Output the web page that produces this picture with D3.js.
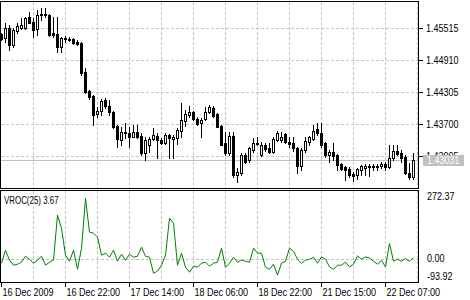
<!DOCTYPE html>
<html><head><meta charset="utf-8">
<script src="https://cdn.jsdelivr.net/npm/d3@7"></script>
<style>
html,body{margin:0;padding:0;background:#fff;overflow:hidden}
text{font-family:"Liberation Sans",Arial,sans-serif;font-size:11px;}
</style></head><body>
<svg id="c" width="470" height="300"></svg>
<script>
const openP=[1.4541,1.4533,1.4552,1.4520,1.4546,1.4552,1.4552,1.4573,1.4563,1.4550,1.4577,1.4579,1.4577,1.4543,1.4541,1.4516,1.4531,1.4531,1.4531,1.4526,
1.4524,1.4469,1.4433,1.4424,1.4390,1.4395,1.4416,1.4405,1.4393,1.4367,1.4340,1.4354,1.4354,1.4346,1.4356,1.4348,1.4316,1.4331,1.4342,1.4348,
1.4340,1.4335,1.4350,1.4342,1.4344,1.4357,1.4376,1.4388,1.4393,1.4380,1.4373,1.4380,1.4393,1.4401,1.4390,1.4367,1.4335,1.4316,1.4348,1.4274,
1.4278,1.4312,1.4303,1.4321,1.4333,1.4312,1.4331,1.4325,1.4318,1.4340,1.4340,1.4352,1.4337,1.4335,1.4325,1.4291,1.4321,1.4337,1.4342,1.4361,
1.4354,1.4335,1.4312,1.4318,1.4312,1.4295,1.4289,1.4286,1.4276,1.4274,1.4284,1.4287,1.4289,1.4289,1.4291,1.4291,1.4295,1.4289,1.4306,1.4320,
1.4316,1.4308,1.4278,1.4270];
const highP=[1.4543,1.4562,1.4558,1.4552,1.4562,1.4571,1.4573,1.4582,1.4571,1.4586,1.4590,1.4590,1.4579,1.4573,1.4573,1.4535,1.4537,1.4535,1.4533,1.4529,
1.4526,1.4476,1.4435,1.4425,1.4403,1.4418,1.4420,1.4416,1.4395,1.4369,1.4365,1.4373,1.4365,1.4369,1.4369,1.4354,1.4346,1.4346,1.4363,1.4354,
1.4344,1.4354,1.4352,1.4350,1.4363,1.4410,1.4397,1.4405,1.4395,1.4384,1.4382,1.4403,1.4407,1.4405,1.4391,1.4369,1.4356,1.4356,1.4356,1.4287,
1.4316,1.4316,1.4327,1.4344,1.4346,1.4337,1.4335,1.4335,1.4346,1.4357,1.4356,1.4354,1.4346,1.4346,1.4327,1.4325,1.4346,1.4348,1.4369,1.4373,
1.4373,1.4337,1.4321,1.4335,1.4314,1.4297,1.4291,1.4289,1.4280,1.4287,1.4293,1.4295,1.4295,1.4295,1.4295,1.4299,1.4299,1.4331,1.4331,1.4331,
1.4321,1.4312,1.4297,1.4316];
const lowP=[1.4529,1.4526,1.4510,1.4516,1.4543,1.4550,1.4550,1.4562,1.4535,1.4539,1.4567,1.4573,1.4537,1.4535,1.4507,1.4507,1.4526,1.4528,1.4522,1.4520,
1.4463,1.4429,1.4418,1.4369,1.4384,1.4388,1.4401,1.4388,1.4363,1.4327,1.4331,1.4344,1.4327,1.4346,1.4344,1.4312,1.4303,1.4318,1.4340,1.4306,
1.4333,1.4333,1.4306,1.4306,1.4333,1.4346,1.4367,1.4384,1.4378,1.4369,1.4346,1.4378,1.4391,1.4384,1.4365,1.4331,1.4312,1.4312,1.4270,1.4261,
1.4274,1.4297,1.4299,1.4318,1.4331,1.4310,1.4320,1.4316,1.4316,1.4339,1.4337,1.4335,1.4327,1.4320,1.4278,1.4284,1.4318,1.4331,1.4340,1.4350,
1.4327,1.4308,1.4299,1.4303,1.4284,1.4284,1.4265,1.4270,1.4263,1.4267,1.4274,1.4274,1.4272,1.4284,1.4284,1.4287,1.4284,1.4287,1.4303,1.4312,
1.4299,1.4276,1.4267,1.4267];
const closeP=[1.4531,1.4552,1.4520,1.4548,1.4556,1.4558,1.4571,1.4562,1.4548,1.4577,1.4579,1.4577,1.4539,1.4539,1.4516,1.4533,1.4533,1.4529,1.4524,1.4522,
1.4467,1.4431,1.4422,1.4388,1.4395,1.4414,1.4405,1.4393,1.4365,1.4342,1.4356,1.4356,1.4346,1.4356,1.4346,1.4316,1.4340,1.4342,1.4350,1.4340,
1.4335,1.4350,1.4344,1.4346,1.4359,1.4378,1.4390,1.4393,1.4380,1.4371,1.4378,1.4393,1.4403,1.4386,1.4365,1.4331,1.4316,1.4348,1.4274,1.4280,
1.4312,1.4299,1.4325,1.4335,1.4335,1.4331,1.4323,1.4318,1.4342,1.4354,1.4346,1.4337,1.4333,1.4325,1.4291,1.4321,1.4339,1.4346,1.4357,1.4354,
1.4331,1.4312,1.4318,1.4310,1.4293,1.4286,1.4284,1.4274,1.4272,1.4286,1.4291,1.4291,1.4291,1.4291,1.4289,1.4295,1.4289,1.4306,1.4320,1.4314,
1.4306,1.4278,1.4270,1.43031];
const vroc=[-21.3,37.7,-7.7,-30.4,-25.9,-16.8,10.4,-3.2,-21.3,-7.7,10.4,-30.4,-16.8,-7.7,196.5,137.5,15.0,-12.3,37.7,-48.6,
46.7,272.37,119.7,115.2,97.0,15.0,24.1,5.9,37.7,-12.3,19.5,-7.7,19.5,5.9,10.4,51.3,10.4,5.9,-66.7,-57.6,
-30.4,15.0,183.0,160.2,-30.4,24.1,-39.5,-62.2,-35.0,-39.5,-21.3,-16.8,-35.0,-21.3,-16.8,46.7,-39.5,-21.3,5.9,-16.8,
-7.7,-12.3,-16.8,46.7,24.1,24.1,-39.5,-48.6,-25.9,-75.0,-21.3,-12.3,46.7,33.1,-3.2,-21.3,-7.7,-3.2,5.9,-21.3,
7.3,-3.2,-38.1,-48.6,-30.4,-30.4,-16.8,-38.1,-25.9,11.8,-3.2,7.3,2.7,-12.3,-25.9,-7.7,-38.1,68.1,-12.3,-3.2,
-12.3,0.0,-12.3,3.67];
const priceTicks=[1.45515,1.44910,1.44305,1.43700,1.43095];
const lastPrice=1.43031;
const vrocMax=272.37, vrocMin=-93.92;
const vrocTicks=[272.37,0,-93.92];
const vrocLabel="VROC(25) 3.67";
const timeTickIdx=[1,17,33,49,65,81,97];
const timeTickLabels=["16 Dec 2009","16 Dec 22:00","17 Dec 14:00","18 Dec 06:00","18 Dec 22:00","21 Dec 15:00","22 Dec 07:00"];

const svg=d3.select("#c");
const L=0, R=418, T1=1, B1=188, T2=190, B2=282;
const SX=0.82;
const x=d3.scaleLinear().domain([1,105]).range([1.5,417.5]);
const y=d3.scaleLinear().domain([1.43095,1.45515]).range([156.5,28.5]);
const yv=d3.scaleLinear().domain([vrocMin,vrocMax]).range([279.2,198.5]);
const gridIdx=d3.range(9,106,8);
const gridCol="#c4c4c4";

function label(parent,tx,ty,s,fill,sx){
  return parent.append("text").attr("transform",`translate(${tx},${ty}) scale(${sx||SX},1)`)
    .attr("dy","0.35em").attr("fill",fill||"#000").text(s);
}

svg.append("rect").attr("width",470).attr("height",300).attr("fill","#fff");

// main pane grid
const g1=svg.append("g");
g1.selectAll(".vg").data(gridIdx).join("line")
 .attr("x1",d=>x(d)).attr("x2",d=>x(d)).attr("y1",T1+1).attr("y2",B1)
 .attr("stroke",gridCol).attr("stroke-dasharray","3,2");
g1.selectAll(".hg").data(priceTicks).join("line")
 .attr("x1",L+1).attr("x2",R).attr("y1",d=>y(d)).attr("y2",d=>y(d))
 .attr("stroke",gridCol).attr("stroke-dasharray","3,2");
const lpY=Math.round(y(lastPrice))+0.5;
svg.append("line").attr("x1",L+1).attr("x2",R).attr("y1",lpY).attr("y2",lpY).attr("stroke","#c0c0c0");

// candles
const idx=d3.range(openP.length);
const cg=svg.append("g");
idx.forEach(k=>{
  const i=k+1, cx=x(i), col=cx-0.5;
  const o=openP[k], c=closeP[k], h=highP[k], l=lowP[k];
  const yh=Math.round(y(h)), yl=Math.round(y(l));
  cg.append("rect").attr("x",col).attr("y",yh).attr("width",1).attr("height",Math.max(1,yl-yh+1)).attr("fill","#000");
  const yt=Math.round(y(Math.max(o,c))), yb=Math.round(y(Math.min(o,c)));
  if (yb-yt<1){
    cg.append("rect").attr("x",col-1).attr("y",yt).attr("width",3).attr("height",1).attr("fill","#000");
  } else if (c>o){
    cg.append("rect").attr("x",col-0.5).attr("y",yt+0.5).attr("width",2).attr("height",yb-yt).attr("fill","#fff").attr("stroke","#000");
  } else {
    cg.append("rect").attr("x",col-1).attr("y",yt).attr("width",3).attr("height",yb-yt+1).attr("fill","#000");
  }
});

// indicator grid
const g2=svg.append("g");
g2.selectAll("line.v").data(gridIdx).join("line")
 .attr("x1",d=>x(d)).attr("x2",d=>x(d)).attr("y1",T2+1).attr("y2",B2)
 .attr("stroke",gridCol).attr("stroke-dasharray","3,2");
const zy=Math.round(yv(0))+0.5;
svg.append("line").attr("x1",L+1).attr("x2",R).attr("y1",zy).attr("y2",zy).attr("stroke",gridCol).attr("stroke-dasharray","3,2");

// vroc line
const line=d3.line().x((d,k)=>x(k+1)).y(d=>yv(d));
svg.append("path").datum(vroc).attr("d",line).attr("fill","none").attr("stroke","#008000").attr("stroke-width",1);

// frames
const fr=svg.append("g").attr("fill","none").attr("stroke","#000");
fr.append("rect").attr("x",L+0.5).attr("y",T1+0.5).attr("width",R-L).attr("height",B1-T1);
fr.append("rect").attr("x",L+0.5).attr("y",T2+0.5).attr("width",R-L).attr("height",B2-T2);

// right price axis
const ax=svg.append("g");
priceTicks.forEach(p=>{
  const yy=y(p);
  ax.append("line").attr("x1",R+1).attr("x2",R+5).attr("y1",yy).attr("y2",yy).attr("stroke","#000");
  label(ax,R+8,yy,p.toFixed(5));
});
// last price label
svg.append("rect").attr("x",R+5).attr("y",lpY-5.5).attr("width",41).attr("height",11).attr("fill","#c0c0c0");
label(svg,R+9,lpY,lastPrice.toFixed(5),"#fff");

// indicator axis labels
vrocTicks.forEach(v=>{
  let yy=yv(v);
  if (v===vrocMax) yy=T2+6;
  if (v===vrocMin) yy=B2-5.5;
  label(ax,R+9,yy,v.toFixed(2));
});
label(svg,4,200,vrocLabel,"#000",0.72);

// time axis
timeTickIdx.forEach((t,j)=>{
  const xx=Math.max(x(t),0.5);
  svg.append("line").attr("x1",xx).attr("x2",xx).attr("y1",B2).attr("y2",B2+5).attr("stroke","#000");
  label(svg,xx+1,292,timeTickLabels[j]);
});
</script></body></html>
